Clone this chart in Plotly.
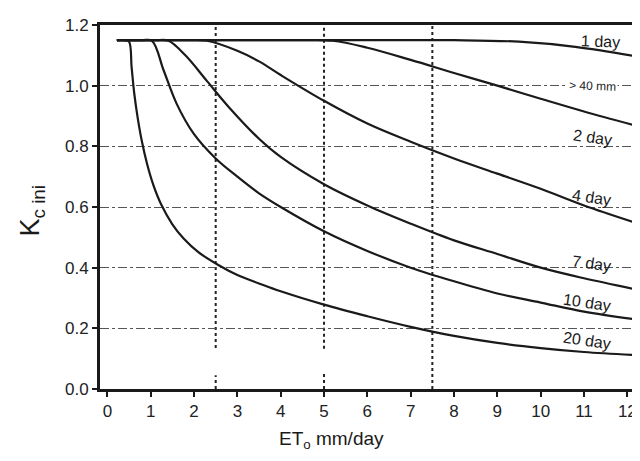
import plotly.graph_objects as go

# ET0 (mm/day) and Kc ini values
et_1day = [0.22, 6.0, 8.0, 9.5, 10.8, 12.15]
kc_1day = [1.15, 1.15, 1.15, 1.145, 1.128, 1.098]

et_2day = [0.22, 4.4, 5.2, 6.0, 7.0, 8.0, 9.0, 10.0, 11.0, 12.15]
kc_2day = [1.15, 1.15, 1.148, 1.125, 1.085, 1.042, 1.0, 0.957, 0.915, 0.87]

et_4day = [0.22, 1.8, 2.3, 3.0, 3.5, 4.0, 5.0, 6.0, 7.0, 8.0, 9.0, 10.0, 11.0, 12.15]
kc_4day = [1.15, 1.15, 1.148, 1.115, 1.08, 1.035, 0.95, 0.875, 0.815, 0.76, 0.71, 0.66, 0.605, 0.55]

et_7day = [0.22, 1.1, 1.41, 1.8, 2.3, 2.8, 3.5, 4.0, 5.0, 6.0, 7.0, 8.0, 9.0, 10.0, 11.0, 12.15]
kc_7day = [1.15, 1.15, 1.148, 1.10, 1.015, 0.93, 0.825, 0.765, 0.675, 0.605, 0.545, 0.49, 0.445, 0.40, 0.365, 0.33]

et_10day = [0.22, 0.8, 1.03, 1.3, 1.6, 2.0, 2.5, 3.0, 3.5, 4.0, 5.0, 6.0, 7.0, 8.0, 9.0, 10.0, 11.0, 12.15]
kc_10day = [1.15, 1.15, 1.148, 1.05, 0.94, 0.84, 0.76, 0.70, 0.645, 0.60, 0.52, 0.455, 0.40, 0.355, 0.315, 0.285, 0.255, 0.23]

et_20day = [0.22, 0.4, 0.5, 0.56, 0.62, 0.7, 0.8, 0.92, 1.06, 1.24, 1.5, 1.76, 2.1, 2.56, 3.0, 3.5, 4.0,
            5.0, 6.0, 7.0, 8.0, 9.0, 10.0, 11.0, 12.15]
kc_20day = [1.15, 1.15, 1.145, 1.06, 0.975, 0.894, 0.814, 0.74, 0.673, 0.609, 0.543, 0.496, 0.451, 0.409,
            0.376, 0.348, 0.322, 0.278, 0.24, 0.205, 0.175, 0.152, 0.135, 0.122, 0.112]

curve_names = ["1 day", "2 day", "4 day", "7 day", "10 day", "20 day"]
curve_x = [et_1day, et_2day, et_4day, et_7day, et_10day, et_20day]
curve_y = [kc_1day, kc_2day, kc_4day, kc_7day, kc_10day, kc_20day]

# curve labels: text, ET position, Kc position
label_text = ["1 day", "> 40 mm", "2 day", "4 day", "7 day", "10 day", "20 day"]
label_et = [11.37, 11.2, 11.2, 11.18, 11.18, 11.07, 11.07]
label_kc = [1.145, 0.998, 0.829, 0.63, 0.414, 0.285, 0.16]

x_ticks = list(range(0, 13))
y_ticks = [0.0, 0.2, 0.4, 0.6, 0.8, 1.0, 1.2]

# vertical reference lines (ET) with their drawn Kc spans
ref_et = [2.5, 5.0, 7.5]
ref_spans = [[(0.135, 1.2), (0.0, 0.045)], [(0.133, 1.2), (0.0, 0.05)], [(0.0, 1.2)]]

FONT = "Liberation Sans, Arial, sans-serif"
INK = "#1a1a1a"

fig = go.Figure()
for name, xs, ys in zip(curve_names, curve_x, curve_y):
    fig.add_trace(go.Scatter(
        x=xs, y=ys, mode="lines", name=name,
        line=dict(color=INK, width=2.2, shape="spline", smoothing=1.0),
        showlegend=False, hoverinfo="skip",
    ))

shapes = []
for xv, spans in zip(ref_et, ref_spans):
    for y0, y1 in spans:
        shapes.append(dict(type="line", xref="x", yref="y", x0=xv, x1=xv, y0=y0, y1=y1,
                           line=dict(color="#222", width=2, dash="dot"), layer="below"))
# partial right frame edge
shapes.append(dict(type="line", xref="paper", yref="paper", x0=1, x1=1, y0=0, y1=0.3,
                   line=dict(color=INK, width=2)))

annotations = []
for t, xe, yk in zip(label_text, label_et, label_kc):
    small = t.startswith(">")
    annotations.append(dict(
        x=xe, y=yk, xref="x", yref="y", text=t, showarrow=False,
        font=dict(family=FONT, size=12 if small else 16, color=INK),
        textangle=2 if (t == "1 day" or small) else 8,
        xanchor="center", yanchor="middle",
        bgcolor="white" if small else "rgba(255,255,255,0)", borderpad=1,
    ))
annotations.append(dict(
    x=-0.127, y=0.49, xref="paper", yref="paper", text="K<sub>c ini</sub>",
    showarrow=False, textangle=-90, font=dict(family=FONT, size=27, color=INK),
    xanchor="center", yanchor="middle",
))
annotations.append(dict(
    x=0.431, y=-0.14, xref="paper", yref="paper", text="ET<sub>o</sub> mm/day",
    showarrow=False, font=dict(family=FONT, size=19, color=INK),
    xanchor="center", yanchor="middle",
))

# the page body has an 8px margin, so the figure is sized/offset to compensate
fig.update_layout(
    width=632, height=453,
    margin=dict(l=92, r=4, t=17, b=72),
    paper_bgcolor="white", plot_bgcolor="white",
    font=dict(family=FONT, color=INK),
    shapes=shapes, annotations=annotations,
    xaxis=dict(
        range=[-0.17, 12.2], tickmode="array", tickvals=x_ticks,
        ticktext=[str(v) for v in x_ticks],
        showgrid=False, zeroline=False,
        showline=True, linecolor=INK, linewidth=2.5, mirror=True,
        ticks="outside", ticklen=5, tickwidth=2, tickcolor=INK,
        tickfont=dict(family=FONT, size=17, color="#222"),
    ),
    yaxis=dict(
        range=[0, 1.2], tickmode="array", tickvals=y_ticks,
        ticktext=[f"{v:.1f}" for v in y_ticks],
        showgrid=True, gridcolor="#555", gridwidth=1.3, griddash="dashdot",
        zeroline=False,
        showline=True, linecolor=INK, linewidth=3,
        ticks="outside", ticklen=5, tickwidth=2, tickcolor=INK,
        tickfont=dict(family=FONT, size=17, color="#222"),
    ),
)

fig.write_html("out.html")
